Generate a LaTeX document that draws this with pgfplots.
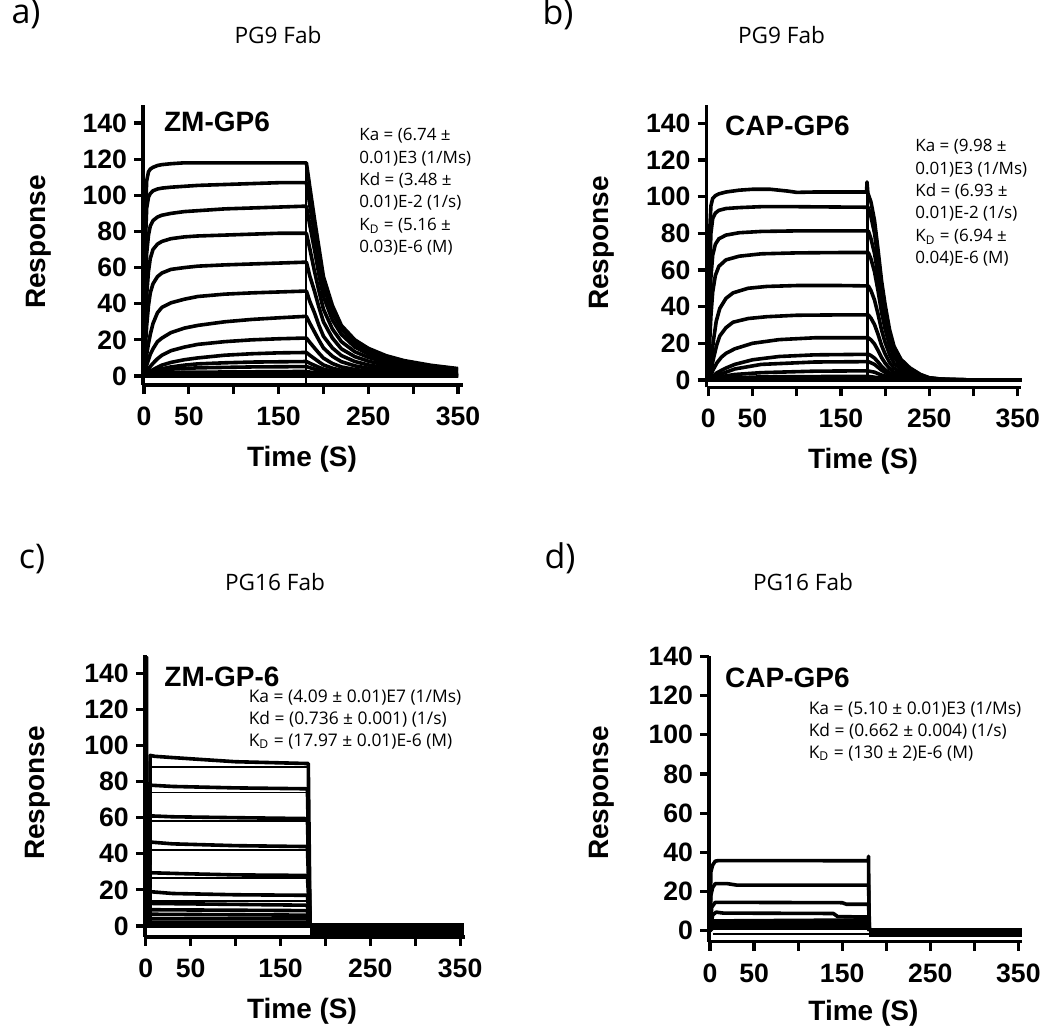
\documentclass[border=0pt]{standalone}
\usepackage{fontspec}
\setmainfont{Open Sans}
\newfontfamily\hb{Liberation Sans}
\usepackage{pgfplots}
\pgfplotsset{compat=1.18}

\pgfplotsset{
  spr/.style={
    scale only axis,
    anchor=south west,
    axis x line*=bottom,
    axis y line*=left,
    axis line style={line width=1.7pt},
    tick align=outside,
    major tick length=4.5pt,
    every tick/.style={black, line width=1.6pt},
    xtick={0,50,...,350},
    xticklabels={0,50,,150,,250,,350},
    ytick={0,20,...,140},
    xticklabel shift=3pt,
    tick label style={font=\hb\bfseries\fontsize{13.3}{13.3}\selectfont},
    /pgf/number format/assume math mode=true,
  },
  cv/.style={black, line width=1.8pt, line join=round, no marks},
  thin/.style={black, line width=0.9pt, line join=round, no marks},
}

\newcommand\bigsans[1]{{\hb\bfseries\fontsize{14}{14}\selectfont #1}}

\begin{document}
\begin{tikzpicture}
\useasboundingbox (0,0) rectangle (525pt,-515pt);

% ---------------- a) PG9 Fab, ZM-GP6
\begin{axis}[spr, at={(71.55pt,-192.5pt)}, width=159.7pt, height=140pt,
  xmin=-1, xmax=355, ymin=-5, ymax=150]
\addplot[cv] coordinates {(0,0)(1,60)(2,95)(3,108)(5,113)(7,114.5)(10,115.5)(15,116.5)(20,117)(30,117.5)(45,118)(180,118)(181,118)(185,104)(190,87)(195,71)(200,55)(210,39)(220,28)(235,20)(250,15.3)(270,11.2)(290,8.5)(320,5.9)(350,4.1)};
\addplot[cv] coordinates {(0,0)(1,45)(2,80)(3,93)(5,99)(7,101)(10,102.5)(15,103.5)(20,104)(30,104.5)(45,105)(60,105.5)(90,106)(120,106.5)(150,107)(180,107)(181,107)(185,94)(190,79)(195,64)(200,50)(210,35)(220,26)(235,18)(250,14)(270,10)(290,7.7)(320,5.4)(350,3.7)};
\addplot[cv] coordinates {(0,0)(1,30)(2,55)(3,68)(5,78)(7,83)(10,86)(15,88)(20,89)(30,90)(45,91)(60,91.5)(90,92.5)(120,93)(150,93.5)(180,94)(181,94)(185,83)(190,70)(195,56)(200,44)(210,31)(220,23)(235,16)(250,12.2)(270,8.9)(290,6.8)(320,4.7)(350,3.3)};
\addplot[cv] coordinates {(0,0)(1,18)(2,33)(3,45)(5,58)(7,65)(10,70)(15,73)(20,74.5)(30,76)(45,77)(60,77.5)(90,78)(120,78.5)(150,79)(180,79)(181,79)(185,70)(190,58)(195,47)(200,37)(210,26)(220,19)(235,13.4)(250,10.3)(270,7.5)(290,5.7)(320,4)(350,2.8)};
\addplot[cv] coordinates {(0,0)(1,10)(2,20)(3,28)(5,39)(7,46)(10,51)(15,55)(20,57)(30,59)(45,60)(60,60.8)(90,61.5)(120,62)(150,62.5)(180,63)(181,63)(185,55)(190,47)(195,38)(200,30)(210,21)(220,15)(235,10.7)(250,8.2)(270,6)(290,4.5)(320,3.2)(350,2.2)};
\addplot[cv] coordinates {(0,0)(1,4)(2,8)(3,12)(5,18)(7,23)(10,29)(15,35)(20,38)(30,40.5)(45,42.5)(60,44)(90,45.3)(120,46)(150,46.5)(180,47)(181,47)(185,41)(190,35)(195,28)(200,22)(210,15.5)(220,11.3)(235,8)(250,6.1)(270,4.5)(290,3.4)(320,2.4)(350,1.6)};
\addplot[cv] coordinates {(0,0)(1,2)(2,4)(3,6)(5,9)(7,12)(10,15)(15,19)(20,21)(30,24)(45,26.5)(60,28)(90,30)(120,31.3)(150,32.2)(180,33)(181,33)(185,29)(190,24.4)(195,19.8)(200,15.5)(210,10.9)(220,7.9)(235,5.6)(250,4.3)(270,3.1)(290,2.4)(320,1.7)(350,1.2)};
\addplot[cv] coordinates {(0,0)(2,2)(5,4)(10,7)(15,9.5)(20,11.5)(30,14)(45,16)(60,17.5)(90,19)(120,20)(150,20.6)(180,21)(181,21)(185,18.5)(190,15.5)(195,12.6)(200,9.9)(210,6.9)(220,5)(235,3.6)(250,2.7)(270,2)(290,1.5)(320,1.1)(350,0.7)};
\addplot[cv] coordinates {(0,0)(5,2)(10,3.5)(20,6)(30,7.5)(45,9)(60,10)(90,11.5)(120,12.3)(150,12.8)(180,13)(181,13)(185,11.4)(190,9.6)(195,7.8)(200,6.1)(210,4.3)(220,3.1)(235,2.2)(250,1.7)(270,1.2)(290,0.9)(320,0.7)(350,0.5)};
\addplot[cv] coordinates {(0,0)(5,1.5)(10,2.5)(20,4)(30,5)(45,6)(60,6.7)(90,7.3)(120,7.7)(180,8)(181,8)(185,7)(190,5.9)(195,4.8)(200,3.8)(210,2.6)(220,1.9)(235,1.4)(250,1)(270,0.8)(290,0.6)(320,0.4)(350,0.3)};
\addplot[cv] coordinates {(0,0)(5,1)(10,2)(20,3)(30,3.8)(60,4.5)(120,5)(180,5.2)(181,5.2)(190,3.8)(200,2.5)(220,1.2)(250,0.6)(300,0.3)(350,0.2)};
\addplot[cv] coordinates {(0,0)(10,1)(30,2)(180,2.5)(190,1.8)(210,1)(250,0.4)(350,0.1)};
\addplot[cv] coordinates {(0,0.5)(180,1)(200,0.5)(350,0)};
\addplot[cv] coordinates {(0,0)(350,0)};
\addplot[thin] coordinates {(180.5,118)(180.5,-5)};
\end{axis}

% ---------------- b) PG9 Fab, CAP-GP6
\begin{axis}[spr, at={(353.25pt,-193.65pt)}, width=157.4pt, height=141.2pt,
  xmin=-2, xmax=354, ymin=-4, ymax=150]
\addplot[cv] coordinates {(0,0)(1,50)(2,85)(3,95)(5,99)(8,100.5)(12,101.5)(20,102.5)(35,103.5)(50,104)(70,104)(90,103)(100,102.3)(120,102.5)(150,102.5)(179,102.5)(179.5,108)(180.5,102)(184,97)(188,87)(192,71)(196,54)(200,41)(205,27.5)(210,18.4)(218,11.2)(228,6.6)(240,3)(250,1.2)(265,0.4)(300,0)(354,0)};
\addplot[cv] coordinates {(0,0)(1,35)(2,65)(3,80)(5,88)(8,91)(12,92.5)(20,93.5)(35,94)(60,94.5)(100,94.5)(150,94.3)(180,94.2)(181,94)(184,89)(188,80)(192,66)(196,50)(200,38)(205,25.4)(210,17)(218,10.3)(228,6.1)(240,2.8)(250,1.1)(265,0.4)(300,0)(354,0)};
\addplot[cv] coordinates {(0,0)(1,22)(2,42)(3,56)(5,68)(8,74)(12,77)(20,79)(35,80.3)(60,81)(100,81.3)(180,81.3)(181,81.3)(184,77)(188,69)(192,57)(196,43)(200,32.5)(205,22)(210,14.6)(218,8.9)(228,5.3)(240,2.4)(250,1)(265,0.3)(300,0)(354,0)};
\addplot[cv] coordinates {(0,0)(1,12)(2,25)(3,35)(5,48)(8,57)(12,62)(20,65.5)(35,67.5)(60,68.8)(100,69.3)(150,69.5)(180,69.5)(181,69.5)(184,66)(188,59)(192,48.6)(196,36.8)(200,27.8)(205,18.8)(210,12.5)(218,7.6)(228,4.5)(240,2.1)(250,0.8)(265,0.3)(300,0)(354,0)};
\addplot[cv] coordinates {(0,0)(1,3)(3,10)(6,22)(9,32)(13,39)(20,44.5)(28,47.5)(45,50)(66,51)(100,51.5)(150,51.5)(180,51.3)(181,51.3)(184,48.7)(188,43.6)(192,35.9)(196,27.2)(200,20.5)(205,13.9)(210,9.2)(218,5.6)(228,3.3)(240,1.5)(250,0.6)(265,0.2)(300,0)(354,0)};
\addplot[cv] coordinates {(0,0)(3,5)(6,12)(9.5,19)(13,24)(20,28.5)(28,31.5)(45,33.5)(66,34.5)(100,35.3)(150,35.5)(180,35.5)(181,35.5)(184,33.7)(188,30.2)(192,24.9)(196,18.8)(200,14.2)(205,9.6)(210,6.4)(218,3.9)(228,2.3)(240,1.1)(250,0.4)(265,0.1)(300,0)(354,0)};
\addplot[cv] coordinates {(0,0)(3,3)(6,6)(10,9.5)(15,12.5)(20,14.5)(30,17)(50,20)(80,22)(120,23)(180,23)(181,23)(184,21.9)(188,19.6)(192,16.1)(196,12.2)(200,9.2)(205,6.2)(210,4.1)(218,2.5)(228,1.5)(240,0.7)(250,0.3)(265,0.1)(300,0)(354,0)};
\addplot[cv] coordinates {(0,0)(5,2)(10,4)(20,6.5)(30,8.5)(50,11)(80,12.8)(120,13.7)(180,14)(181,14)(184,13.3)(188,11.9)(192,9.8)(196,7.4)(200,5.6)(205,3.8)(210,2.5)(218,1.5)(228,0.9)(240,0.4)(250,0.2)(265,0)(354,0)};
\addplot[cv] coordinates {(0,0)(10,2.5)(30,6)(60,8.5)(120,9.8)(180,10)(181,10)(188,8.5)(196,5.3)(205,2.7)(218,1.1)(240,0.3)(265,0)(354,0)};
\addplot[cv] coordinates {(0,0)(10,1.5)(30,3)(60,4)(120,4.8)(180,5)(188,4.25)(196,2.65)(210,0.9)(240,0.15)(265,0)(354,0)};
\addplot[cv] coordinates {(0,0)(20,1)(60,1.7)(180,2)(196,1)(220,0.3)(260,0)(354,0)};
\addplot[cv] coordinates {(0,0)(354,0)};
\addplot[cv] coordinates {(180,102)(180,0)};
\end{axis}

% ---------------- c) PG16 Fab, ZM-GP-6
\begin{axis}[spr, at={(72.4pt,-468.4pt)}, width=159.9pt, height=140.8pt,
  xmin=-1, xmax=355, ymin=-6, ymax=150]
\addplot[thin] coordinates {(0,0)(0.3,149)(2,149)(2.3,0)};
\addplot[cv] coordinates {(0,17)(4,17)};
\addplot[cv] coordinates {(4,0)(5,94.5)(10,94)(30,93.3)(60,92.3)(100,91)(140,90.5)(180,90)(181,90)(183,1)};
\addplot[cv] coordinates {(4,0)(5,78)(30,77.3)(100,76.5)(180,76)(183,0)};
\addplot[cv] coordinates {(4,0)(5,61)(30,60.5)(100,60)(180,59.5)(183,0)};
\addplot[cv] coordinates {(4,0)(5,46.5)(30,45.5)(100,44.5)(180,44)(183,0)};
\addplot[cv] coordinates {(4,0)(5,29.5)(40,29)(100,28.3)(180,28)(183,0)};
\addplot[cv] coordinates {(4,0)(5,19)(30,18)(100,17.3)(180,17)(183,0)};
\addplot[cv] coordinates {(4,0)(5,12.5)(180,11.5)(183,0)};
\addplot[cv] coordinates {(4,0)(5,9)(180,8.5)(183,0)};
\addplot[cv] coordinates {(4,0)(5,6.5)(180,6)(183,0)};
\addplot[cv] coordinates {(4,0)(5,4)(180,4)(183,0)};
\addplot[cv] coordinates {(4,0)(5,2)(180,2)(183,0)};
\addplot[thin] coordinates {(5,88)(180,88)};
\addplot[thin] coordinates {(5,74)(180,74)};
\addplot[thin] coordinates {(5,58)(180,58)};
\addplot[thin] coordinates {(5,42)(180,42)};
\addplot[thin] coordinates {(5,26.5)(180,26.5)};
\addplot[thin] coordinates {(5,14)(180,14)};
\addplot[cv] coordinates {(0,0)(354,0)};
\addplot[cv] coordinates {(183,0.5)(354,0.5)};
\addplot[cv] coordinates {(183,-1.3)(354,-1.3)};
\addplot[cv] coordinates {(183,-3.1)(354,-3.1)};
\addplot[cv] coordinates {(183,-4.6)(354,-4.6)};
\end{axis}

% ---------------- d) PG16 Fab, CAP-GP6
\begin{axis}[spr, at={(354.55pt,-470.75pt)}, width=156.4pt, height=142.6pt,
  xmin=-1, xmax=354, ymin=-5.5, ymax=140]
\addplot[cv] coordinates {(0,0)(1,30)(3,33.5)(6,35.5)(10,35.8)(179.5,35.7)(180,38)(180.5,1)(182,0)};
\addplot[cv] coordinates {(0,0)(1,18)(3,22)(6,24)(20,24)(30,23.3)(180,23.3)(181,0)};
\addplot[cv] coordinates {(0,0)(2,12)(6,14.5)(150,14.3)(155,13.5)(180,13.5)(181,0)};
\addplot[cv] coordinates {(0,0)(3,8)(7,9.5)(15,9)(140,8.8)(145,7.2)(180,7)(181,0)};
\addplot[cv] coordinates {(0,0)(3,5)(180,5.5)(181,0)};
\addplot[cv] coordinates {(0,0)(3,4)(180,4)(181,0)};
\addplot[cv] coordinates {(0,0)(3,2.7)(180,2.7)(181,0)};
\addplot[cv] coordinates {(0,0)(3,1.3)(180,1.3)(181,0)};
\addplot[thin] coordinates {(3,-1.7)(180,-1.7)};
\addplot[cv] coordinates {(181,0.5)(354,0.5)};
\addplot[cv] coordinates {(181,-1)(354,-1)};
\addplot[cv] coordinates {(181,-2.2)(354,-2.2)};
\end{axis}

% ---------------- text
\node[font=\fontsize{17}{17}\selectfont] at (13pt,-7pt) {a)};
\node[font=\fontsize{17}{17}\selectfont] at (279pt,-7pt) {b)};
\node[font=\fontsize{17}{17}\selectfont] at (16pt,-279.5pt) {c)};
\node[font=\fontsize{17}{17}\selectfont] at (280pt,-279pt) {d)};

\node[font=\fontsize{11.3}{11.3}\selectfont] at (139pt,-17.5pt) {PG9 Fab};
\node[font=\fontsize{11.3}{11.3}\selectfont] at (390.8pt,-17.5pt) {PG9 Fab};
\node[font=\fontsize{11.3}{11.3}\selectfont] at (137.5pt,-290.8pt) {PG16 Fab};
\node[font=\fontsize{11.3}{11.3}\selectfont] at (401.5pt,-290.8pt) {PG16 Fab};

\node at (108.5pt,-61pt) {\bigsans{ZM-GP6}};
\node at (393.7pt,-63pt) {\bigsans{CAP-GP6}};
\node at (111pt,-338.5pt) {\bigsans{ZM-GP-6}};
\node at (393.7pt,-338.7pt) {\bigsans{CAP-GP6}};

\node[rotate=90] at (19.5pt,-121pt) {\bigsans{Response}};
\node[rotate=90] at (300.8pt,-121.5pt) {\bigsans{Response}};
\node[rotate=90] at (19pt,-396.5pt) {\bigsans{Response}};
\node[rotate=90] at (300.8pt,-396.5pt) {\bigsans{Response}};

\node at (151pt,-229.5pt) {\bigsans{Time (S)}};
\node at (431.5pt,-230.8pt) {\bigsans{Time (S)}};
\node at (151pt,-505.8pt) {\bigsans{Time (S)}};
\node at (431.7pt,-506.7pt) {\bigsans{Time (S)}};

\node[anchor=north west, align=left, inner sep=0pt, font=\fontsize{8.5}{11.2}\selectfont]
  at (179.5pt,-64pt) {Ka = (6.74 ±\\0.01)E3 (1/Ms)\\Kd = (3.48 ±\\0.01)E-2 (1/s)\\K\textsubscript{D} = (5.16 ±\\0.03)E-6 (M)};
\node[anchor=north west, align=left, inner sep=0pt, font=\fontsize{8.5}{11.2}\selectfont]
  at (457.5pt,-69.5pt) {Ka = (9.98 ±\\0.01)E3 (1/Ms)\\Kd = (6.93 ±\\0.01)E-2 (1/s)\\K\textsubscript{D} = (6.94 ±\\0.04)E-6 (M)};
\node[anchor=north west, align=left, inner sep=0pt, font=\fontsize{8.7}{11.1}\selectfont]
  at (124.2pt,-344.5pt) {Ka = (4.09 ± 0.01)E7 (1/Ms)\\Kd = (0.736 ± 0.001) (1/s)\\K\textsubscript{D} = (17.97 ± 0.01)E-6 (M)};
\node[anchor=north west, align=left, inner sep=0pt, font=\fontsize{8.7}{11.1}\selectfont]
  at (404.2pt,-350.5pt) {Ka = (5.10 ± 0.01)E3 (1/Ms)\\Kd = (0.662 ± 0.004) (1/s)\\K\textsubscript{D} = (130 ± 2)E-6 (M)};
\end{tikzpicture}
\end{document}
